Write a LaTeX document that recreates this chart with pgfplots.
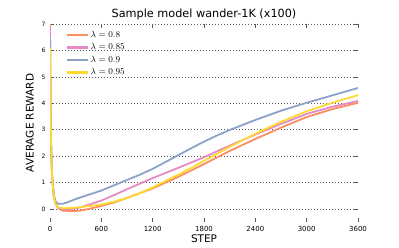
\documentclass[border=0pt]{standalone}
\usepackage{pgfplots}
\pgfplotsset{compat=1.18}
\usepackage{fontspec}
\setmainfont{DejaVu Sans}
\definecolor{cred}{HTML}{FC8D62}
\definecolor{cpink}{HTML}{E78AC3}
\definecolor{cblue}{HTML}{8DA0CB}
\definecolor{cyel}{HTML}{FFD92F}
\begin{document}
\begin{tikzpicture}
\begin{axis}[
  scale only axis,
  width=308bp, height=198bp,
  xmin=0, xmax=3600, ymin=-0.49, ymax=7,
  xtick={0,600,1200,1800,2400,3000,3600},
  ytick={0,1,2,3,4,5,6,7},
  axis line style={draw=none},
  tick align=inside,
  major tick length=4bp,
  tick style={black!65, line width=0.6pt},
  ymajorgrids,
  grid style={black!65, dash pattern=on 0.9bp off 2.1bp, line width=0.7pt},
  /pgf/number format/assume math mode=true,
  /pgf/number format/1000 sep={},
  yticklabel style={font=\fontsize{6}{7}\selectfont, xshift=-1bp},
  xticklabel style={font=\fontsize{7}{8}\selectfont, yshift=-1bp},
  title={Sample model wander-1K (x100)},
  title style={font=\fontsize{11.3}{13}\selectfont, yshift=-5bp},
  xlabel={STEP},
  ylabel={AVERAGE REWARD},
  label style={font=\fontsize{10.5}{12}\selectfont},
  xlabel style={yshift=4bp},
  ylabel style={yshift=1bp},
  legend style={draw=none, fill=none, font=\fontsize{9}{10}\selectfont, row sep=0.8pt, at={(0.04,0.985)}, anchor=north west},
  legend cell align=left,
  legend image code/.code={\draw[#1, line width=2.2pt] (0bp,0bp) -- (21bp,0bp);},
  every axis plot/.append style={line width=1.8pt, line join=round},
]
\coordinate (ll) at (rel axis cs:0,0);
\coordinate (ur) at (rel axis cs:1,1);
\addplot[cred] coordinates {(0,7)(6,4)(12,2.5)(25,1.2)(45,0.5)(70,0.2)(100,0.02)(150,-0.06)(250,-0.08)(350,-0.06)(450,0.0)(600,0.12)(750,0.25)(900,0.42)(1050,0.6)(1200,0.78)(1500,1.22)(1800,1.7)(2100,2.2)(2400,2.65)(2700,3.08)(3000,3.48)(3300,3.78)(3600,4.02)};
\addlegendentry{$\lambda=0.8$}
\addplot[cpink] coordinates {(0,6.9)(6,4)(12,2.5)(25,1.2)(45,0.45)(70,0.15)(100,0.03)(150,-0.01)(250,0.0)(350,0.06)(450,0.16)(600,0.32)(750,0.53)(900,0.75)(1050,0.96)(1200,1.17)(1500,1.56)(1800,1.96)(2100,2.4)(2400,2.82)(2700,3.22)(3000,3.6)(3300,3.87)(3600,4.09)};
\addlegendentry{$\lambda=0.85$}
\addplot[cblue] coordinates {(0,6.5)(6,4)(12,2.5)(25,1.2)(45,0.5)(70,0.25)(100,0.2)(150,0.2)(200,0.25)(300,0.38)(450,0.54)(600,0.7)(750,0.9)(900,1.1)(1050,1.3)(1200,1.52)(1350,1.78)(1500,2.04)(1650,2.3)(1800,2.55)(1950,2.78)(2100,2.99)(2400,3.37)(2700,3.72)(3000,4.02)(3300,4.3)(3600,4.58)};
\addlegendentry{$\lambda=0.9$}
\addplot[cyel] coordinates {(0,6.1)(6,4)(12,2.5)(25,1.2)(45,0.45)(70,0.15)(100,0.06)(150,0.03)(250,0.04)(350,0.07)(450,0.11)(600,0.17)(750,0.28)(900,0.42)(1050,0.6)(1200,0.82)(1500,1.3)(1800,1.82)(2100,2.35)(2400,2.85)(2700,3.3)(3000,3.7)(3300,4.02)(3600,4.31)};
\addlegendentry{$\lambda=0.95$}
\end{axis}
\pgfresetboundingbox
\path ([shift={(-50bp,-25bp)}]ll) rectangle ([shift={(41bp,24bp)}]ur);
\end{tikzpicture}
\end{document}
